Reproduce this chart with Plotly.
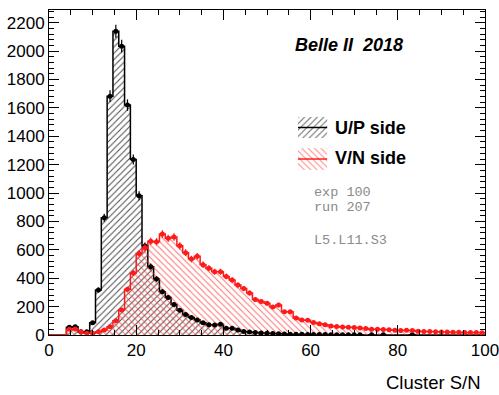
import numpy as np
import plotly.graph_objs as go

# histogram: 75 bins over 0..100 (bin width 4/3)
bin_edges = np.linspace(0, 100, 76)

up_counts = [0, 0, 0, 54, 58, 23, 23, 87, 317, 826,
             1683, 2140, 2035, 1620, 1237, 981, 627, 481, 395, 305,
             265, 215, 175, 145, 124, 106, 87, 72, 70, 75,
             48, 47, 35, 25, 22, 17, 14, 12, 10, 9,
             7, 6, 5, 5, 4, 4, 3, 3, 2, 2,
             2, 1, 2, 1, 0, 1, 0, 1, 0, 0,
             0, 0, 1, 0, 0, 0, 0, 0, 0, 0,
             0, 0, 0, 0, 0]

vn_counts = [0, 0, 0, 40, 42, 23, 12, 12, 23, 35,
             58, 101, 176, 322, 437, 575, 615, 660, 657, 711,
             681, 690, 628, 580, 535, 555, 495, 470, 446, 446,
             413, 387, 352, 327, 296, 250, 236, 223, 197, 212,
             164, 164, 120, 106, 104, 88, 80, 72, 63, 60,
             56, 55, 52, 49, 45, 40, 40, 38, 37, 33,
             31, 33, 31, 26, 25, 24, 23, 22, 22, 20,
             20, 18, 18, 17, 15]

up_label = 'U/P side'
vn_label = 'V/N side'
info_lines = ['exp 100', 'run 207', '', 'L5.L11.S3']

RED = '#ff1a1a'


def hist_traces(counts, color, hatch, hatch_color):
    counts = np.array(counts, dtype=float)
    centers = 0.5 * (bin_edges[:-1] + bin_edges[1:])
    step_y = np.append(counts, counts[-1])
    outline = go.Scatter(
        x=bin_edges, y=step_y, mode='lines', line_shape='hv',
        line=dict(color=color, width=1.5),
        fill='tozeroy', fillcolor='rgba(0,0,0,0)',
        fillpattern=dict(shape=hatch, fgcolor=hatch_color, bgcolor='rgba(0,0,0,0)',
                         size=4.5, solidity=0.22, fillmode='replace'),
        hoverinfo='skip', showlegend=False)
    nz = counts > 0
    points = go.Scatter(
        x=centers[nz], y=counts[nz], mode='markers',
        marker=dict(color=color, size=5, symbol='circle'),
        error_y=dict(type='data', array=np.sqrt(counts[nz]), color=color,
                     thickness=1.2, width=0),
        showlegend=False)
    return outline, points


up_line, up_pts = hist_traces(up_counts, 'black', '/', 'rgba(0,0,0,0.7)')
vn_line, vn_pts = hist_traces(vn_counts, RED, '\\', 'rgba(255,50,50,0.7)')

fig = go.Figure([up_line, vn_line, up_pts, vn_pts])

# legend boxes drawn on an overlay axis in plot-fraction units
def legend_box(x0, x1, y0, y1, color, hatch, hatch_color):
    box = go.Scatter(
        x=[x0, x1, x1, x0, x0], y=[y0, y0, y1, y1, y0], mode='lines',
        line=dict(width=0, color='rgba(0,0,0,0)'), fill='toself',
        fillcolor='rgba(0,0,0,0)',
        fillpattern=dict(shape=hatch, fgcolor=hatch_color, bgcolor='rgba(0,0,0,0)',
                         size=4.5, solidity=0.22, fillmode='replace'),
        xaxis='x2', yaxis='y2', hoverinfo='skip', showlegend=False)
    ym = 0.5 * (y0 + y1)
    line = go.Scatter(x=[x0, x1], y=[ym, ym], mode='lines',
                      line=dict(color=color, width=1.5),
                      xaxis='x2', yaxis='y2', hoverinfo='skip', showlegend=False)
    return [box, line]

fig.add_traces(legend_box(0.571, 0.638, 0.606, 0.671, 'black', '/', 'rgba(0,0,0,0.6)'))
fig.add_traces(legend_box(0.571, 0.638, 0.508, 0.575, RED, '\\', 'rgba(255,50,50,0.6)'))

annotations = [
    dict(text='<b><i>Belle II  2018</i></b>', x=0.559, y=0.892, xanchor='left',
         font=dict(size=18, color='black', family='Liberation Sans')),
    dict(text='<b>' + up_label + '</b>', x=0.651, y=0.637, xanchor='left',
         font=dict(size=18, color='black', family='Liberation Sans')),
    dict(text='<b>' + vn_label + '</b>', x=0.651, y=0.545, xanchor='left',
         font=dict(size=18, color='black', family='Liberation Sans')),
    dict(text='Cluster S/N', x=0.995, y=-0.145, xanchor='right',
         font=dict(size=18.5, color='black', family='Liberation Sans')),
]
for txt, yy in zip(info_lines, [0.44, 0.391, 0.342, 0.292]):
    if txt:
        annotations.append(dict(text=txt, x=0.603, y=yy, xanchor='left',
                                font=dict(size=13.5, color='#8a8a8a',
                                          family='Liberation Mono')))
for a in annotations:
    a.update(xref='paper', yref='paper', yanchor='middle', showarrow=False)

axis_common = dict(showline=True, linecolor='black', linewidth=1, mirror='allticks',
                   ticks='inside', tickcolor='black', showgrid=False, zeroline=False,
                   automargin=False, ticklabeloverflow='allow',
                   tickfont=dict(size=17, color='black', family='Liberation Sans'))

fig.update_layout(
    width=499, height=395,
    margin=dict(l=49, r=14, t=10, b=60),
    paper_bgcolor='white', plot_bgcolor='white',
    showlegend=False,
    annotations=annotations,
    xaxis=dict(range=[0, 100], dtick=20, ticklen=10,
               minor=dict(dtick=5, ticks='inside', ticklen=5, tickcolor='black'),
               **axis_common),
    yaxis=dict(range=[0, 2290], dtick=200, ticklen=10,
               minor=dict(dtick=40, ticks='inside', ticklen=5, tickcolor='black'),
               **axis_common),
    xaxis2=dict(overlaying='x', range=[0, 1], visible=False),
    yaxis2=dict(overlaying='y', range=[0, 1], visible=False),
)

# drop the browser's default body margin so the figure sits at the page corner
fig.write_html("out.html", config={'displayModeBar': False},
               post_script="document.body.style.margin='0';")
